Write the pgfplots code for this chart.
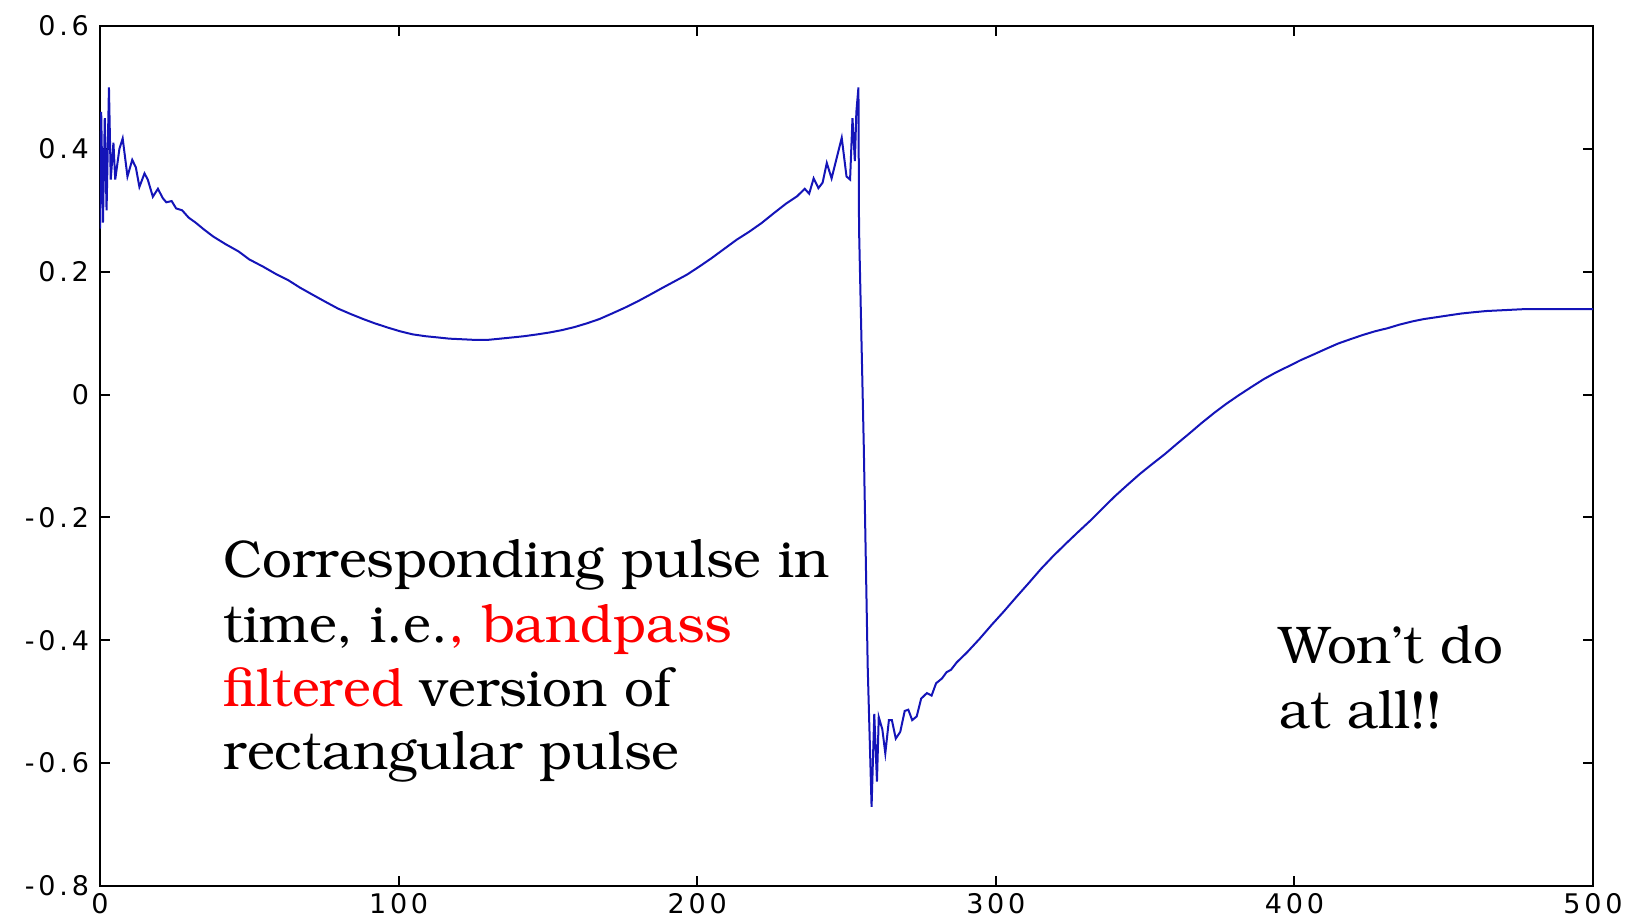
\documentclass[border=0pt]{standalone}
\usepackage[T1]{fontenc}
\usepackage{fontspec}
\usepackage{pgfplots}
\pgfplotsset{compat=1.18}

% tick numbers: a plain sans, spaced out
\newfontfamily\tickfont[LetterSpace=14]{DejaVu Sans}
% annotation text: Bookman (URW)
\newcommand\notefont{\usefont{T1}{pbk}{m}{n}\fontsize{26.5}{32}\selectfont}

\definecolor{traceblue}{rgb}{0.08,0.08,0.72}
\definecolor{notered}{rgb}{1,0,0}

\begin{document}
\begin{tikzpicture}
\begin{axis}[
  scale only axis,
  width=746.5pt, height=430pt,
  xmin=0, xmax=500, ymin=-0.8, ymax=0.6,
  xtick={0,100,200,300,400,500},
  ytick={-0.8,-0.6,-0.4,-0.2,0,0.2,0.4,0.6},
  xtick pos=both, ytick pos=both,
  xticklabel pos=lower, yticklabel pos=left,
  tick align=inside,
  major tick length=5pt,
  axis line style={line width=1.2pt},
  every tick/.style={black, line width=1pt},
  /pgf/number format/assume math mode=true,
  tick label style={font=\tickfont\fontsize{13.5}{16}\selectfont},
  yticklabel style={/pgf/number format/fixed,
                    /pgf/number format/precision=1, xshift=-2pt},
  xticklabel style={/pgf/number format/fixed},
]

% band-pass filtered rectangular pulse, sampled at n = 0..500
\addplot[traceblue, line width=1pt, mark=none] table {
x y
0 0.27
0.4 0.46
1.0 0.28
1.6 0.45
2.2 0.30
3.0 0.50
3.6 0.35
4.5 0.41
5.1 0.35
6.5 0.40
7.6 0.417
9.2 0.355
10.8 0.382
12.0 0.37
13.2 0.338
14.9 0.360
16.0 0.35
17.7 0.322
19.4 0.335
21.0 0.32
22.2 0.313
24.0 0.315
25.5 0.303
27.5 0.300
29.7 0.288
32 0.280
35 0.268
38 0.257
42 0.245
46.4 0.233
50 0.220
54.7 0.208
59 0.196
63.1 0.186
67 0.174
71.4 0.162
75.5 0.151
79.7 0.140
84 0.131
88.1 0.123
92 0.116
96.4 0.109
100.5 0.103
104.7 0.098
109 0.095
113.1 0.093
117 0.091
121.4 0.090
125.5 0.089
129.8 0.089
134 0.091
138.1 0.093
142 0.095
146.5 0.098
150.5 0.101
154.8 0.105
159 0.110
163.1 0.116
167.3 0.123
171.5 0.132
175.6 0.141
179.8 0.151
184 0.162
188.1 0.173
192.3 0.184
196.5 0.195
200.6 0.208
204.8 0.222
209 0.237
213.2 0.252
217.4 0.265
221.5 0.279
225.6 0.295
229.8 0.311
233.5 0.323
236 0.335
237.5 0.327
239 0.352
240.6 0.336
242 0.345
243.4 0.377
245 0.352
246.7 0.385
248.4 0.418
250 0.355
251.2 0.35
252.0 0.45
252.8 0.38
253.3 0.46
254 0.50
254.2 0.27
255.8 -0.087
257.1 -0.443
258.4 -0.671
259.3 -0.52
260.2 -0.63
260.8 -0.525
262 -0.545
263 -0.584
264.2 -0.53
265.2 -0.53
266.5 -0.56
268 -0.549
269.5 -0.515
270.7 -0.513
272 -0.53
273.5 -0.524
275 -0.495
276.9 -0.486
278.5 -0.49
280 -0.47
282 -0.462
283.5 -0.452
285 -0.448
286.9 -0.436
290.3 -0.420
294.5 -0.398
298.6 -0.375
302.7 -0.353
306.8 -0.330
311 -0.307
315.1 -0.284
319.2 -0.263
323.4 -0.243
327.5 -0.224
331.7 -0.205
335.8 -0.185
340 -0.165
344.1 -0.147
348.3 -0.129
352.4 -0.113
356.6 -0.097
360.7 -0.080
364.9 -0.063
369 -0.046
373.1 -0.030
377.2 -0.015
381.4 -0.001
385.5 0.012
389.7 0.025
393.8 0.036
398 0.046
402.1 0.056
406.3 0.065
410.4 0.074
414.6 0.083
418.7 0.090
422.9 0.097
427 0.103
431.2 0.108
435.3 0.114
439.4 0.119
443.5 0.123
447.7 0.126
451.8 0.129
456 0.132
460 0.134
464.3 0.136
468.5 0.137
472.6 0.138
476.7 0.139
480.9 0.139
500 0.139
};

% annotations
\node[anchor=base west, inner sep=0pt] at (axis cs:41.2,-0.2986)
  {\notefont Corresponding pulse in};
\node[anchor=base west, inner sep=0pt] at (axis cs:41.2,-0.404)
  {\notefont time, i.e.\textcolor{notered}{, bandpass}};
\node[anchor=base west, inner sep=0pt] at (axis cs:41.2,-0.5086)
  {\notefont \textcolor{notered}{filtered} version of};
\node[anchor=base west, inner sep=0pt] at (axis cs:41.2,-0.611)
  {\notefont rectangular pulse};

\node[anchor=base west, inner sep=0pt] at (axis cs:395,-0.4386)
  {\notefont Won't do};
\node[anchor=base west, inner sep=0pt] at (axis cs:395,-0.5434)
  {\notefont at all!!};
\end{axis}

% fixed page frame around the axis box and its tick labels
\pgfresetboundingbox
\path ([shift={(-50pt,-17pt)}]current axis.south west)
  rectangle ([shift={(17pt,13pt)}]current axis.north east);
\end{tikzpicture}
\end{document}
